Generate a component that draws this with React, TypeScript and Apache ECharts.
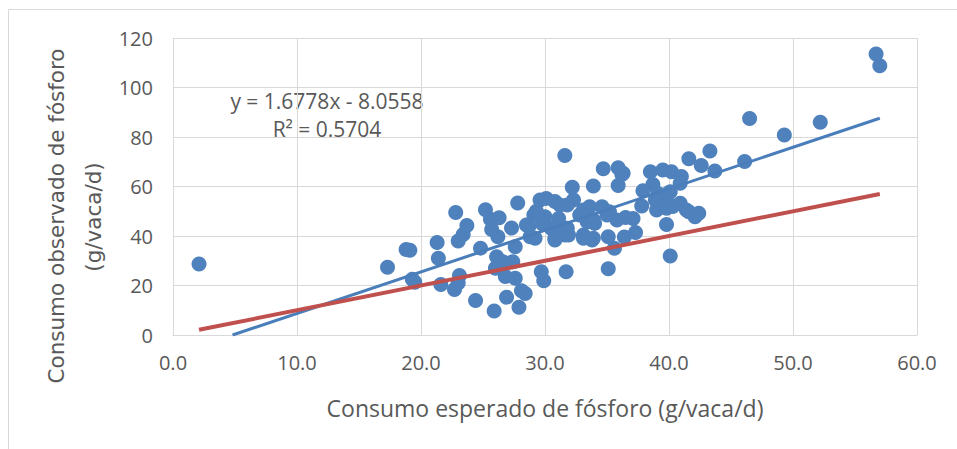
import React, { useEffect, useRef } from "react";
import * as echarts from "echarts";

// Consumo esperado (x) vs observado (y) de fósforo, g/vaca/d
const esperado: number[] = [
  2.1, 17.3, 18.8, 19.1, 19.3, 19.5, 21.3, 21.4, 21.6, 22.8,
  23.0, 23.4, 23.7, 23.1, 23.0, 22.7, 24.4, 24.8, 25.2, 25.6,
  25.7, 26.3, 26.2, 27.3, 27.6, 27.8, 26.1, 26.0, 26.6, 27.4,
  26.8, 27.6, 25.9, 26.9, 28.1, 28.4, 27.9, 28.5, 28.8, 29.1,
  29.3, 29.6, 30.1, 30.0, 29.8, 30.5, 30.8, 31.1, 31.8, 31.6,
  30.8, 31.8, 32.3, 33.1, 33.1, 33.8, 33.6, 34.6, 33.9, 33.4,
  35.0, 35.1, 35.6, 29.7, 29.9, 31.7, 35.1, 31.6, 32.2, 33.9,
  34.7, 35.9, 35.9, 36.2, 38.5, 39.5, 40.2, 41.0, 40.9, 38.7,
  37.9, 39.3, 40.1, 39.8, 38.9, 37.8, 39.0, 39.8, 40.9, 41.4,
  42.1, 42.4, 39.8, 40.1, 36.5, 37.1, 37.3, 36.4, 41.6, 43.3,
  42.6, 43.7, 46.1, 46.5, 49.3, 52.2, 56.7, 57.0, 29.2, 30.8,
  31.9, 33.1, 33.9, 31.2, 32.8, 34.0, 28.7, 35.8, 39.1, 39.9,
  40.3, 41.6, 35.2, 36.3, 31.0,
];
const observado: number[] = [
  28.7, 27.4, 34.5, 34.2, 22.5, 21.3, 37.4, 31.0, 20.4, 49.5,
  38.0, 40.6, 44.2, 24.0, 21.0, 18.4, 13.9, 35.1, 50.6, 46.8,
  42.6, 47.4, 39.7, 43.2, 35.7, 53.3, 31.6, 27.0, 29.6, 29.6,
  23.6, 22.9, 9.7, 15.3, 17.9, 16.8, 11.2, 44.4, 39.7, 48.5,
  50.0, 54.5, 55.2, 47.8, 44.8, 43.1, 39.1, 47.1, 43.1, 40.4,
  53.9, 52.5, 54.5, 50.5, 40.4, 38.4, 51.8, 51.8, 46.5, 45.8,
  48.5, 39.7, 35.0, 25.6, 21.9, 25.6, 26.8, 72.5, 59.7, 60.2,
  67.2, 60.4, 67.6, 64.8, 66.0, 66.7, 66.0, 64.0, 61.3, 60.8,
  58.3, 56.6, 57.9, 54.5, 54.5, 52.1, 50.5, 51.2, 53.2, 50.5,
  47.8, 49.2, 44.6, 31.9, 47.5, 47.1, 41.4, 39.6, 71.2, 74.3,
  68.5, 66.3, 70.1, 87.5, 80.8, 86.0, 113.5, 108.8, 39.1, 38.4,
  40.4, 39.1, 39.1, 52.5, 48.5, 45.1, 43.8, 46.5, 57.2, 57.2,
  51.9, 49.8, 49.8, 65.4, 41.0,
];

// Linear trend reported on the chart
const pendiente = 1.6778;
const intercepto = -8.0558;
const r2 = 0.5704;

const xTicks = [0, 10, 20, 30, 40, 50, 60];
const yTicks = [0, 20, 40, 60, 80, 100, 120];

const textColor = "#595959";
const gridColor = "#d9d9d9";

export default function App() {
  const ref = useRef<HTMLDivElement>(null);

  useEffect(() => {
    if (!ref.current) return;
    const chart = echarts.init(ref.current, undefined, { renderer: "svg" });

    const puntos = esperado.map((x, i) => [x, observado[i]]);
    const xMin = Math.min(...esperado);
    const xMax = Math.max(...esperado);
    // trend line starts where it enters the plot (y = 0)
    const xStart = Math.max(xMin, -intercepto / pendiente);
    const tendencia = [
      [xStart, pendiente * xStart + intercepto],
      [xMax, pendiente * xMax + intercepto],
    ];
    const unoAUno = [
      [xMin, xMin],
      [xMax, xMax],
    ];

    const signo = intercepto < 0 ? "-" : "+";
    const ecuacion = `y = ${pendiente.toFixed(4)}x ${signo} ${Math.abs(intercepto).toFixed(4)}`;

    chart.setOption({
      animation: false,
      backgroundColor: "#ffffff",
      grid: { left: 173, top: 38, width: 744, height: 297, containLabel: false },
      xAxis: {
        type: "value",
        min: xTicks[0],
        max: xTicks[xTicks.length - 1],
        interval: 10,
        axisLine: { show: true, lineStyle: { color: gridColor, width: 1 } },
        axisTick: { show: false },
        splitLine: { show: true, lineStyle: { color: gridColor, width: 1 } },
        axisLabel: {
          color: textColor,
          fontFamily: "Open Sans",
          fontSize: 20,
          margin: 17,
          formatter: (v: number) => v.toFixed(1),
        },
      },
      yAxis: {
        type: "value",
        min: yTicks[0],
        max: yTicks[yTicks.length - 1],
        interval: 20,
        axisLine: { show: true, lineStyle: { color: gridColor, width: 1 } },
        axisTick: { show: false },
        splitLine: { show: true, lineStyle: { color: gridColor, width: 1 } },
        axisLabel: {
          color: textColor,
          fontFamily: "Open Sans",
          fontSize: 20,
          margin: 20,
        },
      },
      graphic: [
        {
          type: "rect",
          silent: true,
          shape: { x: 8.5, y: 9.5, width: 980, height: 480 },
          style: { fill: "none", stroke: gridColor, lineWidth: 1 },
          z: -10,
        },
        {
          type: "text",
          x: 327,
          y: 101,
          style: {
            text: ecuacion,
            fill: textColor,
            font: '21px "Open Sans"',
            align: "center",
            verticalAlign: "middle",
          },
        },
        {
          type: "text",
          x: 327,
          y: 129,
          style: {
            text: `R² = ${r2.toFixed(4)}`,
            fill: textColor,
            font: '21px "Open Sans"',
            align: "center",
            verticalAlign: "middle",
          },
        },
        {
          type: "text",
          x: 545,
          y: 408,
          style: {
            text: "Consumo esperado de fósforo (g/vaca/d)",
            fill: textColor,
            font: '23px "Open Sans"',
            align: "center",
            verticalAlign: "middle",
          },
        },
        {
          type: "text",
          x: 56,
          y: 216,
          rotation: Math.PI / 2,
          style: {
            text: "Consumo observado de fósforo",
            fill: textColor,
            font: '21.5px "DejaVu Sans"',
            align: "center",
            verticalAlign: "middle",
          },
        },
        {
          type: "text",
          x: 93,
          y: 217,
          rotation: Math.PI / 2,
          style: {
            text: "(g/vaca/d)",
            fill: textColor,
            font: '21.5px "DejaVu Sans"',
            align: "center",
            verticalAlign: "middle",
          },
        },
      ],
      series: [
        {
          type: "scatter",
          data: puntos,
          symbol: "circle",
          symbolSize: 15,
          itemStyle: { color: "#4f81bd", opacity: 1 },
          z: 2,
        },
        {
          type: "line",
          data: tendencia,
          symbol: "none",
          lineStyle: { color: "#4a7ebb", width: 3 },
          z: 3,
        },
        {
          type: "line",
          data: unoAUno,
          symbol: "none",
          lineStyle: { color: "#c0504d", width: 4 },
          z: 4,
        },
      ],
    });

    return () => chart.dispose();
  }, []);

  return (
    <div
      ref={ref}
      style={{ position: "fixed", left: 0, top: 0, width: 957, height: 449 }}
    />
  );
}
